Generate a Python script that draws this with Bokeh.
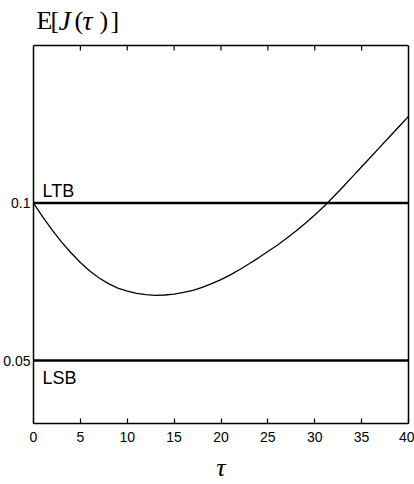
import math
from bokeh.plotting import figure
from bokeh.models import Range1d, LinearAxis, FixedTicker, Span, Label
from bokeh.embed import file_html
from bokeh.resources import INLINE

# ---- data ----
tau = list(range(0, 41))
expected_cost = [0.1000, 0.0955, 0.0914, 0.0876, 0.0842, 0.0811, 0.0784, 0.0762,
                 0.0744, 0.0730, 0.0720, 0.0713, 0.0709, 0.0707, 0.0708, 0.0711,
                 0.0716, 0.0723, 0.0732, 0.0744, 0.0757, 0.0772, 0.0789, 0.0807,
                 0.0826, 0.0846, 0.0866, 0.0888, 0.0911, 0.0936, 0.0962, 0.0990,
                 0.1020, 0.1051, 0.1083, 0.1115, 0.1147, 0.1179, 0.1211, 0.1243,
                 0.1275]
x_ticks = [0, 5, 10, 15, 20, 25, 30, 35, 40]
y_ticks = [0.05, 0.1]
y_tick_labels = {0.05: "0.05", 0.1: "0.1"}
x_min, x_max = 0, 40
y_min, y_max = 0.03, 0.15
y_view_top = 0.1643   # view extends above the box so the title can sit inside the canvas
ltb = 0.1
lsb = 0.05
ltb_text = "LTB"
lsb_text = "LSB"
title_chars = ["E", "[", "J", "(", "τ", ")", "]"]
title_italic = [False, False, True, False, True, False, False]

p = figure(width=414, height=484, output_backend="svg", toolbar_location=None,
           x_range=Range1d(x_min, x_max), y_range=Range1d(y_min, y_view_top),
           x_axis_type=None, y_axis_type=None,
           min_border_left=33, min_border_right=6, min_border_top=0, min_border_bottom=61)
p.background_fill_color = "white"
p.border_fill_color = "white"
p.outline_line_color = None
p.xgrid.visible = False
p.ygrid.visible = False

# bottom axis
xb = LinearAxis(ticker=FixedTicker(ticks=x_ticks))
xb.major_tick_in = 5
xb.major_tick_out = 0
xb.major_tick_line_width = 1.2
xb.minor_tick_line_color = None
xb.axis_line_color = "black"
xb.axis_line_width = 1.5
xb.major_label_text_font = "Liberation Sans"
xb.major_label_text_font_size = "14px"
xb.major_label_text_color = "black"
xb.major_label_standoff = 8
xb.axis_label = "τ"
xb.axis_label_text_font = "Liberation Serif"
xb.axis_label_text_font_style = "italic"
xb.axis_label_text_font_size = "26px"
xb.axis_label_text_color = "black"
xb.axis_label_standoff = 8
p.add_layout(xb, "below")

# left axis: labels only, line limited to the box
yl = LinearAxis(ticker=FixedTicker(ticks=y_ticks), bounds=(y_min, y_max))
yl.major_tick_in = 0
yl.major_tick_out = 0
yl.minor_tick_line_color = None
yl.axis_line_color = "black"
yl.axis_line_width = 1.5
yl.major_label_overrides = y_tick_labels
yl.major_label_text_font = "Liberation Sans"
yl.major_label_text_font_size = "14px"
yl.major_label_text_color = "black"
yl.major_label_standoff = 3
p.add_layout(yl, "left")

# right edge of the box
yr = LinearAxis(ticker=FixedTicker(ticks=[]), bounds=(y_min, y_max))
yr.major_tick_in = 0
yr.major_tick_out = 0
yr.minor_tick_line_color = None
yr.axis_line_color = "black"
yr.axis_line_width = 1.5
p.add_layout(yr, "right")

# top edge of the box
p.add_layout(Span(location=y_max, dimension="width", line_color="black", line_width=1.5))

# top tick marks (pointing into the box)
top_ticks = [t for t in x_ticks if x_min < t < x_max]
p.ray(x=top_ticks, y=[y_max] * len(top_ticks), length=5, length_units="screen",
      angle=-math.pi / 2, line_color="black", line_width=1.2)

# boundary lines
p.add_layout(Span(location=ltb, dimension="width", line_color="black", line_width=2.5))
p.add_layout(Span(location=lsb, dimension="width", line_color="black", line_width=2.5))

# expected cost curve
p.line(tau, expected_cost, line_color="black", line_width=1.3)

# boundary labels
p.add_layout(Label(x=x_min, y=ltb, x_offset=9, y_offset=12, text=ltb_text,
                   text_font="Liberation Sans", text_font_size="18px",
                   text_color="black", text_baseline="alphabetic"))
p.add_layout(Label(x=x_min, y=lsb, x_offset=9, y_offset=-17, text=lsb_text,
                   text_font="Liberation Sans", text_font_size="18px",
                   text_color="black", text_baseline="alphabetic"))

# y-axis title: E[J(τ)] with italic J and τ, one character at a time
char_dx = [3, 17, 25, 41, 49, 66, 77]
for ch, it, dx in zip(title_chars, title_italic, char_dx):
    p.add_layout(Label(x=x_min, y=y_max, x_offset=dx, y_offset=25, text=ch,
                       text_font="Liberation Serif",
                       text_font_style="italic" if it else "normal",
                       text_font_size="28px" if it else "26px", text_color="black",
                       text_baseline="alphabetic"))

open("out.html", "w").write(file_html(p, INLINE))
